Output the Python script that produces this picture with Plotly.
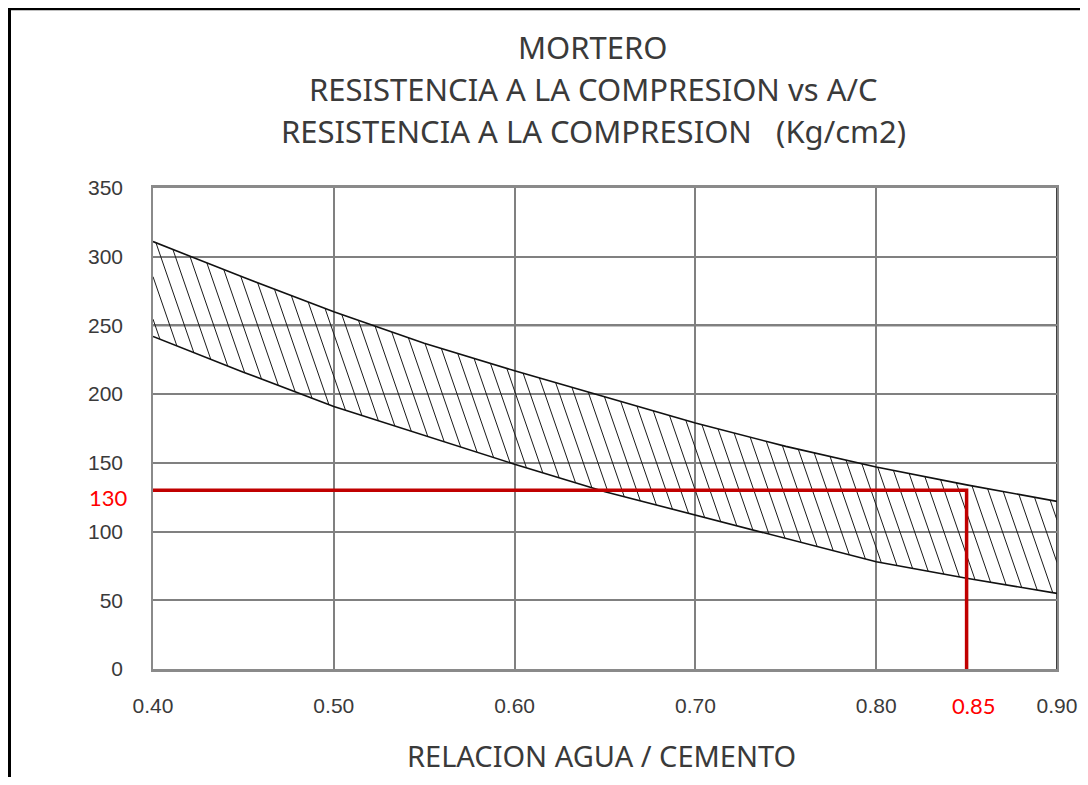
import numpy as np
import plotly.graph_objects as go

# ---------------- data ----------------
ac_ratio = [0.40, 0.45, 0.50, 0.55, 0.60, 0.65, 0.70, 0.75, 0.80, 0.85, 0.90]
res_upper = [311, 285, 260, 237, 217, 198, 179, 162, 147, 134, 122]
res_lower = [242, 216, 191, 170, 149, 129, 112, 95, 78, 66, 55]

x_tick_vals = [0.40, 0.50, 0.60, 0.70, 0.80, 0.90]
x_tick_text = ["0.40", "0.50", "0.60", "0.70", "0.80", "0.90"]
y_tick_vals = [0, 50, 100, 150, 200, 250, 300, 350]
y_tick_text = ["0", "50", "100", "150", "200", "250", "300", "350"]

target_ac = 0.85
target_res = 130
target_ac_label = "0.85"
target_res_label = "130"

title_lines = ["MORTERO",
               "RESISTENCIA A LA COMPRESION vs A/C",
               "RESISTENCIA A LA COMPRESION   (Kg/cm2)"]
x_title = "RELACION AGUA / CEMENTO"

dark_x_lines = [0.50, 0.90]
mid_x_lines = [0.80]
dark_y_lines = [250]

# ---------------- style ----------------
OFF = 8                      # page body margin of the browser
W, H = 1088 - 2 * OFF, 785 - 2 * OFF
PX_L, PX_R, PX_T, PX_B = 153, 1057, 188, 669.5   # plot area, screen px
ML = PX_L - OFF
MR = W - (PX_R - OFF)
MT = PX_T - OFF
MB = H - (PX_B - OFF)
CAD_FONT = "Noto Sans, Open Sans, sans-serif"
TICK_FONT = "Liberation Sans, Arial, sans-serif"
RED_FONT = "Lato, Carlito, Calibri, sans-serif"
TXT = "#3a3a3a"
RED_LINE = "#C00000"
RED_TXT = "#FF0000"
hatch_k = 0.000262      # hatch line inclination (x per unit of y)
hatch_step = 0.0081     # spacing of hatch lines
hatch_phase = 0.4667
red_drop_below = 4

plot_w = PX_R - PX_L
plot_h = PX_B - PX_T

def sx(px):   # screen px -> paper x
    return (px - PX_L) / plot_w

def sy(py):   # screen px -> paper y
    return (PX_B - py) / plot_h

# ---------------- hatch geometry derived from the curves ----------------
xs = np.linspace(ac_ratio[0], ac_ratio[-1], 5001)
U = np.interp(xs, ac_ratio, res_upper)
L = np.interp(xs, ac_ratio, res_lower)
gU = xs + hatch_k * U
gL = xs + hatch_k * L

hx, hy = [], []
c = hatch_phase
while c < gU[-1]:
    if c >= gL[0]:
        if c <= gU[0]:
            xt = xs[0]
            yt = (c - xt) / hatch_k
        else:
            xt = float(np.interp(c, gU, xs))
            yt = float(np.interp(xt, ac_ratio, res_upper))
        if c >= gL[-1]:
            xb = xs[-1]
            yb = (c - xb) / hatch_k
        else:
            xb = float(np.interp(c, gL, xs))
            yb = float(np.interp(xb, ac_ratio, res_lower))
        hx += [xt, xb, None]
        hy += [yt, yb, None]
    c += hatch_step

fig = go.Figure()

fig.add_trace(go.Scatter(x=hx, y=hy, mode="lines",
                         line=dict(color="#1a1a1a", width=1),
                         hoverinfo="skip", showlegend=False))
fig.add_trace(go.Scatter(x=ac_ratio, y=res_upper, mode="lines",
                         line=dict(color="#111", width=1.6), showlegend=False))
fig.add_trace(go.Scatter(x=ac_ratio, y=res_lower, mode="lines",
                         line=dict(color="#111", width=1.6), showlegend=False))

for xv in dark_x_lines:
    fig.add_shape(type="line", xref="x", yref="y", x0=xv, x1=xv,
                  y0=y_tick_vals[0], y1=y_tick_vals[-1],
                  line=dict(color="#111", width=1.6), layer="below")
for xv in mid_x_lines:
    fig.add_shape(type="line", xref="x", yref="y", x0=xv, x1=xv,
                  y0=y_tick_vals[0], y1=y_tick_vals[-1],
                  line=dict(color="#555", width=1.6), layer="below")
for yv in dark_y_lines:
    fig.add_shape(type="line", xref="x", yref="y", x0=x_tick_vals[0], x1=x_tick_vals[-1],
                  y0=yv, y1=yv, line=dict(color="#111", width=1.8), layer="below")

fig.add_trace(go.Scatter(x=[x_tick_vals[0], target_ac, target_ac],
                         y=[target_res, target_res, -red_drop_below],
                         mode="lines", line=dict(color=RED_LINE, width=3.5),
                         cliponaxis=False, showlegend=False))

# picture border (left and top)
fig.add_shape(type="line", xref="paper", yref="paper",
              x0=sx(OFF + 1.5), x1=sx(OFF + 1.5),
              y0=sy(OFF), y1=sy(800),
              line=dict(color="#000", width=3))
fig.add_shape(type="line", xref="paper", yref="paper",
              x0=sx(OFF), x1=sx(1100),
              y0=sy(OFF + 0.5), y1=sy(OFF + 0.5),
              line=dict(color="#000", width=3))

for i, t in enumerate(title_lines):
    fig.add_annotation(text=t, xref="paper", yref="paper",
                       x=sx(593), y=sy(47 + 42 * i),
                       showarrow=False, xanchor="center", yanchor="middle",
                       font=dict(family=CAD_FONT, size=31, color=TXT))
fig.add_annotation(text=x_title, xref="paper", yref="paper",
                   x=sx(601), y=sy(756),
                   showarrow=False, xanchor="center", yanchor="middle",
                   font=dict(family=CAD_FONT, size=29, color=TXT))

fig.add_annotation(text=target_res_label, xref="paper", yref="y",
                   x=sx(108), y=target_res, showarrow=False,
                   xanchor="center", yanchor="middle", yshift=-7,
                   font=dict(family=RED_FONT, size=22, color=RED_TXT))
fig.add_annotation(text=target_ac_label, xref="paper", yref="paper",
                   x=sx(973), y=sy(706), showarrow=False,
                   xanchor="center", yanchor="middle",
                   font=dict(family=RED_FONT, size=22, color=RED_TXT))

fig.update_layout(
    width=W, height=H,
    margin=dict(l=ML, r=MR, t=MT, b=MB, pad=0, autoexpand=False),
    paper_bgcolor="white", plot_bgcolor="white",
    showlegend=False,
    xaxis=dict(range=[x_tick_vals[0], x_tick_vals[-1]],
               tickvals=x_tick_vals, ticktext=x_tick_text, automargin=False,
               showgrid=True, gridcolor="#808080", gridwidth=1.6,
               showline=True, linecolor="#8a8a8a", linewidth=3, mirror=True,
               zeroline=False, ticks="", ticklabelstandoff=16,
               tickfont=dict(family=TICK_FONT, size=21, color=TXT)),
    yaxis=dict(range=[y_tick_vals[0], y_tick_vals[-1]],
               tickvals=y_tick_vals, ticktext=y_tick_text, automargin=False,
               showgrid=True, gridcolor="#808080", gridwidth=1.6,
               showline=True, linecolor="#8a8a8a", linewidth=1.6, mirror=True,
               zeroline=False, ticks="", ticklabelstandoff=24,
               tickfont=dict(family=TICK_FONT, size=21, color=TXT)),
)

fig.write_html("out.html")
